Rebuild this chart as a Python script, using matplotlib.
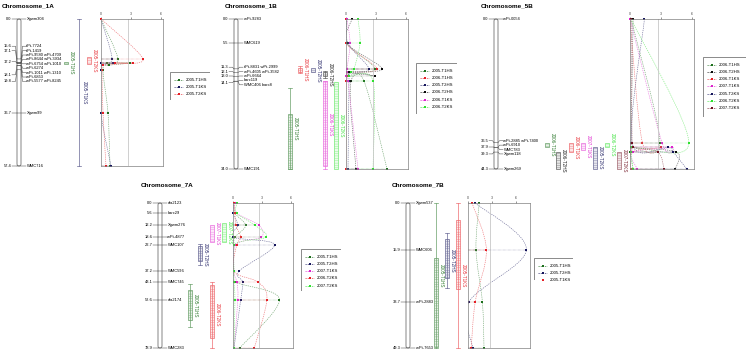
import numpy as np
import matplotlib
matplotlib.use('Agg')
import matplotlib.pyplot as plt
from matplotlib.patches import FancyBboxPatch, Rectangle, PathPatch
from matplotlib.path import Path
from matplotlib.colors import to_rgb

W, H = 747, 352
plt.rcParams['font.family'] = ['Liberation Sans', 'DejaVu Sans']
plt.rcParams['hatch.linewidth'] = 0.25

DKGREEN = '#1c6f1c'
NAVY = '#16165c'
RED = '#e51e25'
BLACK = '#0a0a0a'
MAGENTA = '#dd22cc'
LGREEN = '#2ee02e'
MAROON = '#6e1020'
THRESH = 2.7

#=============================================================================
# Chromosome 1A
cm_1A = [0.0, 15.6, 17.1, 17.2, 17.2, 17.2, 17.2, 18.1, 18.1, 19.8, 36.7, 57.4]
names_1A = ['Xgwm304', 'tPt-7724', 'tPt-1419', 'wPt-9580 wPt-4709', 'wPt-8644 wPt-3934',
            'wPt-6754 wPt-1010', 'wPt-6274', 'wPt-1011 wPt-1310', 'wPt-6853',
            'wPt-5577 wPt-8245', 'Xgwm99', 'WMC716']
traits_1A = ['2005-T1HS', '2005-T1KS', '2005-T2KS']
lod_1A = [[0.0, 1.7, 0.6, 2.9, 0.8, 0.2, 0.7, 0.9],
          [0.0, 1.1, 0.0, 1.2, 0.1, 0.0, 0.0, 1.0],
          [0.0, 4.2, 1.4, 3.2, 0.2, 0.1, 0.2, 0.5]]
box_1A = [(16.6, 17.6), None, (14.8, 17.6)]
whisker_1A = [None, (0.0, 57.4), None]

# Chromosome 1B
cm_1B = [0.0, 5.5, 11.3, 12.1, 13.0, 14.1, 14.1, 34.0]
names_1B = ['wPt-9283', 'WMC619', 'tPt-8831 wPt-2999', 'wPt-4605 wPt-3582', 'wPt-6664',
            'barc119', 'WMC406 barc8', 'WMC191']
traits_1B = ['2005-T1HS', '2006-T1HS', '2005-T2HS', '2006-T2HS', '2006-T1KS', '2006-T2KS']
lod_1B = [[0.1, 0.1, 2.9, 0.3, 0.2, 1.8, 4.1],
          [0.0, 0.0, 3.1, 0.4, 0.1, 0.0, 0.0],
          [0.1, 0.2, 2.3, 0.4, 0.3, 0.3, 0.2],
          [0.6, 0.1, 3.6, 0.3, 2.9, 0.5, 1.0],
          [0.1, 0.4, 0.1, 0.1, 0.0, 0.2, 1.2],
          [1.2, 1.4, 0.8, 0.5, 0.3, 2.7, 2.7]]
box_1B = [(21.5, 34.0), (11.0, 12.0), (11.2, 12.1), (12.1, 13.0), (14.1, 33.3), (14.3, 34.0)]
whisker_1B = [(15.6, 34.0), (10.6, 12.3), None, (11.8, 13.3), (14.1, 34.0), None]

# Chromosome 5B
cm_5B = [0.0, 36.5, 37.9, 37.9, 39.3, 44.3]
names_5B = ['wPt-0054', 'wPt-2885 wPt-7400', 'wPt-6910', 'WMC783', 'Xgwm118', 'Xgwm269']
traits_5B = ['2006-T1HS', '2006-T2HS', '2006-T1KS', '2007-T1KS', '2005-T2KS', '2006-T2KS', '2007-T2KS']
lod_5B = [[0.1, 2.9, 0.1, 0.0, 0.3],
          [0.3, 0.1, 0.1, 4.5, 4.4],
          [0.0, 1.2, 3.0, 0.2, 0.1],
          [0.0, 3.1, 4.1, 0.3, 0.7],
          [1.4, 0.2, 3.7, 4.2, 5.5],
          [0.1, 5.7, 0.2, 0.1, 0.3],
          [0.1, 0.2, 0.3, 2.7, 3.3]]
box_5B = [(36.6, 37.8), (39.3, 44.3), (36.6, 39.3), (36.6, 38.7), (37.8, 44.3), (36.6, 37.8), (39.3, 44.3)]
whisker_5B = [None] * 7

# Chromosome 7A
cm_7A = [0.0, 5.6, 12.2, 18.6, 22.7, 37.2, 43.1, 52.6, 78.9]
names_7A = ['cfa2123', 'barc29', 'Xgwm276', 'wPt-4877', 'WMC107', 'WMC596', 'WMC745', 'cfa2174', 'WMC283']
traits_7A = ['2005-T1HS', '2005-T2HS', '2007-T1KS', '2006-T2KS', '2007-T2KS']
lod_7A = [[0.1, 0.2, 1.3, 0.2, 0.1, 0.1, 0.3, 4.8, 0.7],
          [0.1, 0.0, 0.5, 0.0, 4.3, 0.6, 1.0, 0.8, 0.1],
          [0.2, 0.4, 2.7, 2.9, 0.3, 0.1, 0.4, 0.5, 0.1],
          [0.1, 0.2, 0.3, 0.8, 0.4, 0.1, 2.6, 3.5, 2.2],
          [0.4, 0.4, 2.3, 3.4, 0.1, 0.1, 0.1, 0.2, 0.1]]
box_7A = [(47.3, 63.6), (23.4, 31.6), (12.0, 21.2), (44.6, 73.4), (10.9, 21.2)]
whisker_7A = [(44.1, 67.5), (22.3, 33.7), None, (43.0, 78.9), None]

# Chromosome 7B
cm_7B = [0.0, 15.9, 33.7, 49.3]
names_7B = ['Xgwm537', 'WMC606', 'wPt-2883', 'wPt-7653']
traits_7B = ['2005-T1HS', '2005-T2HS', '2005-T1KS']
lod_7B = [[1.4, 1.0, 1.8, 2.0],
          [0.9, 7.3, 0.1, 0.6],
          [0.5, 2.3, 0.9, 0.4]]
box_7B = [(18.7, 49.0), (12.2, 25.5), (5.8, 29.2)]
whisker_7B = [(0.0, 49.3), (10.2, 28.9), (0.0, 49.3)]

#=============================================================================
# layout (pixels)
panels = [
    dict(title='Chromosome_1A', cm=cm_1A, names=names_1A, traits=traits_1A, lod=lod_1A,
         box=box_1A, whisker=whisker_1A, colors=[DKGREEN, NAVY, RED],
         txy=(2, 6), cx=19, top=19, bot=166, lodx=(101, 163), xmax=6.2,
         qx=[66, 79, 89], legend=(170, 72, 210, 100)),
    dict(title='Chromosome_1B', cm=cm_1B, names=names_1B, traits=traits_1B, lod=lod_1B,
         box=box_1B, whisker=whisker_1B, colors=[DKGREEN, RED, NAVY, BLACK, MAGENTA, LGREEN],
         txy=(225, 6), cx=236, top=19, bot=169, lodx=(346, 408), xmax=6.2,
         qx=[290, 300, 313, 325, 325, 336], legend=(416, 63, 457, 114)),
    dict(title='Chromosome_5B', cm=cm_5B, names=names_5B, traits=traits_5B, lod=lod_5B,
         box=box_5B, whisker=whisker_5B,
         colors=[DKGREEN, BLACK, RED, MAGENTA, NAVY, LGREEN, MAROON],
         txy=(481, 6), cx=496, top=19, bot=169, lodx=(630, 694), xmax=6.2,
         qx=[547, 558, 571, 583, 595, 607, 619], legend=(703, 57, 746, 117)),
    dict(title='Chromosome_7A', cm=cm_7A, names=names_7A, traits=traits_7A, lod=lod_7A,
         box=box_7A, whisker=whisker_7A, colors=[DKGREEN, NAVY, MAGENTA, RED, LGREEN],
         txy=(141, 185), cx=160, top=203, bot=348, lodx=(233, 293), xmax=6.2,
         qx=[190, 200, 212, 212, 224], legend=(301, 249, 341, 291)),
    dict(title='Chromosome_7B', cm=cm_7B, names=names_7B, traits=traits_7B, lod=lod_7B,
         box=box_7B, whisker=whisker_7B, colors=[DKGREEN, NAVY, RED],
         txy=(392, 185), cx=408, top=203, bot=348, lodx=(468, 530), xmax=7.75,
         qx=[436, 447, 458], legend=(534, 258, 573, 280)),
]

fig = plt.figure(figsize=(W / 100, H / 100), dpi=100)
fig.patch.set_facecolor('white')


def px_axes(x0, y0, x1, y1):
    return fig.add_axes([x0 / W, 1 - y1 / H, (x1 - x0) / W, (y1 - y0) / H])


def mix(c, f):
    r = np.array(to_rgb(c))
    return tuple(r + (1 - r) * f)


def spread(vals, gap):
    clusters = [[v] for v in vals]
    start = lambda c: np.mean(c) - gap * (len(c) - 1) / 2
    merged = True
    while merged:
        merged = False
        for i in range(len(clusters) - 1):
            a, b = clusters[i], clusters[i + 1]
            if start(a) + gap * len(a) > start(b) + 1e-9:
                clusters[i] = a + b
                del clusters[i + 1]
                merged = True
                break
    out = []
    for c in clusters:
        s = start(c)
        out += [s + gap * k for k in range(len(c))]
    return np.array(out)


def smooth_path(x, y):
    pts = np.column_stack([x, y]).astype(float)
    n = len(pts)
    verts = [pts[0]]
    codes = [Path.MOVETO]
    for i in range(n - 1):
        p0 = pts[max(i - 1, 0)]
        p1 = pts[i]
        p2 = pts[i + 1]
        p3 = pts[min(i + 2, n - 1)]
        verts += [p1 + (p2 - p0) / 6, p2 - (p3 - p1) / 6, p2]
        codes += [Path.CURVE4] * 3
    return Path(verts, codes)


FS = 2.9
for p in panels:
    top, bot = p['top'], p['bot']
    cm = np.array(p['cm'])
    cmax = cm[-1]
    scale = (bot - top) / cmax
    cx = p['cx']
    bl, br = cx - 2, cx + 2

    fig.text(p['txy'][0] / W, 1 - p['txy'][1] / H, p['title'], fontsize=4.6,
             fontweight='bold', va='center', ha='left')

    # ---- linkage map ----
    axm = px_axes(cx - 30, top, p['lodx'][0], bot)
    axm.set_xlim(cx - 30, p['lodx'][0])
    axm.set_ylim(cmax, 0)
    axm.axis('off')
    axm.add_patch(FancyBboxPatch((bl, 0), br - bl, cmax,
                                 boxstyle='round,pad=0,rounding_size=2',
                                 mutation_aspect=1 / scale, fc='white', ec='#555555',
                                 lw=0.5, clip_on=False))
    ypos = spread(list(cm), 4.4 / scale)
    for c, yn, nm in zip(cm, ypos, p['names']):
        axm.plot([bl, br, br + 1.5, br + 5], [c, c, yn, yn], color='#444444', lw=0.35,
                 clip_on=False)
        axm.text(br + 5.5, yn, nm, fontsize=FS, va='center', ha='left')
    for u in sorted(set(cm)):
        ylab = ypos[cm == u].mean()
        axm.plot([bl - 5, bl - 1.5, bl], [ylab, ylab, u], color='#444444', lw=0.35,
                 clip_on=False)
        axm.text(bl - 5.5, ylab, '%.1f' % u, fontsize=FS, va='center', ha='right')

    # ---- QTL intervals ----
    for k, (tr, col) in enumerate(zip(p['traits'], p['colors'])):
        qx = p['qx'][k]
        bx, wh = p['box'][k], p['whisker'][k]
        edge = mix(col, 0.35)
        if wh is not None:
            axm.plot([qx, qx], wh, color=edge, lw=0.5, clip_on=False)
            for e in wh:
                axm.plot([qx - 2, qx + 2], [e, e], color=edge, lw=0.5, clip_on=False)
        if bx is not None:
            axm.add_patch(Rectangle((qx - 2, bx[0]), 4, bx[1] - bx[0], fc=mix(col, 0.9),
                                    ec=edge, lw=0.5, hatch='-' * 7, clip_on=False))
        span = wh if wh is not None else bx
        axm.text(qx + 2.8, np.mean(span), tr, rotation=270, fontsize=3.3, ha='left',
                 va='center', color=mix(col, 0.1))

    # ---- LOD profiles ----
    axl = px_axes(p['lodx'][0], top, p['lodx'][1], bot)
    axl.set_xlim(0, p['xmax'])
    axl.set_ylim(cmax, 0)
    ucm = sorted(set(cm))
    axl.axvline(THRESH, color='#c8c8c8', lw=0.6)
    for vals, col in zip(p['lod'], p['colors']):
        axl.add_patch(PathPatch(smooth_path(vals, ucm), fc='none', ec=mix(col, 0.4),
                                lw=0.45, ls=(0, (2, 1.5))))
        axl.hlines(ucm, 0, vals, colors=[mix(col, 0.4)], lw=0.3, linestyles=(0, (1.5, 1.5)))
        axl.plot(vals, ucm, ls='none', marker='s', ms=1.9, color=col, mew=0, clip_on=False)
    for s in axl.spines.values():
        s.set_color('#808080')
        s.set_linewidth(0.5)
    axl.set_xticks([0, 3, 6])
    axl.set_yticks([])
    axl.tick_params(top=True, labeltop=True, bottom=False, labelbottom=False,
                    length=1.5, width=0.4, pad=0.5, labelsize=2.6, colors='#444444')

    # ---- legend ----
    lx0, ly0, lx1, ly1 = p['legend']
    axg = px_axes(lx0, ly0, lx1, ly1)
    axg.set_xlim(0, lx1 - lx0)
    axg.set_ylim(ly1 - ly0, 0)
    axg.axis('off')
    axg.add_patch(Rectangle((0.3, 0.3), lx1 - lx0 - 0.6, ly1 - ly0 - 0.6, fc='white',
                            ec='#777777', lw=0.6))
    for i, (tr, col) in enumerate(zip(p['traits'], p['colors'])):
        y = 7.8 + 7.2 * i
        axg.plot([4, 13], [y, y], color=col, lw=0.45, ls=(0, (2, 1.5)))
        axg.plot([8.5], [y], marker='s', ms=1.9, color=col, mew=0)
        axg.text(16, y, tr, fontsize=3.1, va='center', ha='left')

fig.savefig('out.png', dpi=100)
